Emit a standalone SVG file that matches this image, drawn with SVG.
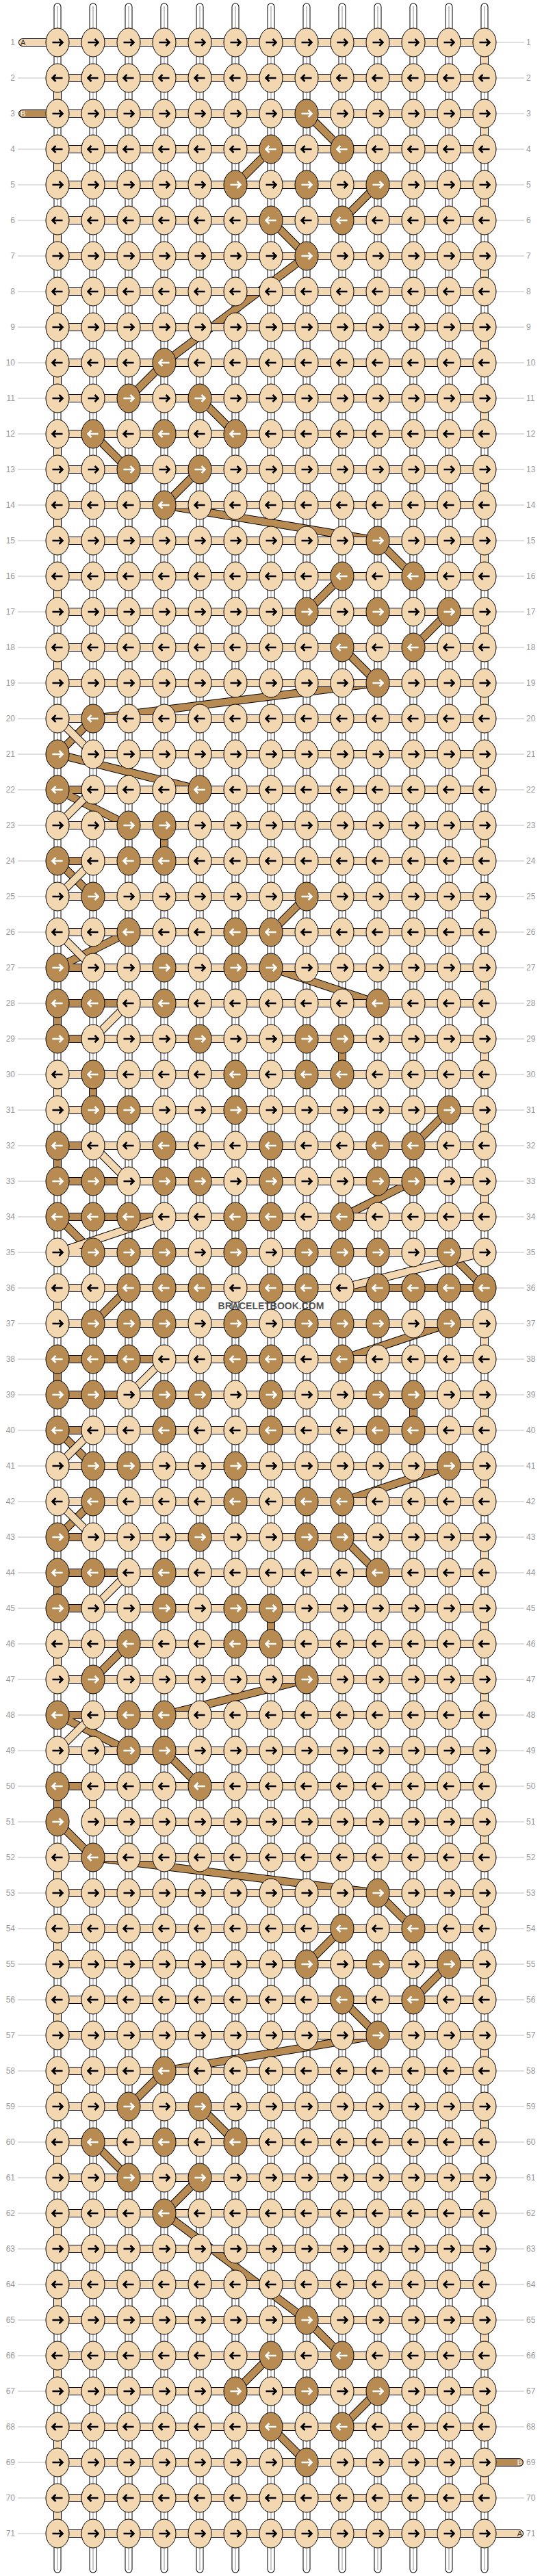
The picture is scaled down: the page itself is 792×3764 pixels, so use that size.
<svg xmlns="http://www.w3.org/2000/svg" width="792" height="3764" viewBox="0 0 792 3764">
<style>
text{font-family:"Liberation Sans",Arial,sans-serif}
.n{font-size:12px;fill:#999}
.e{text-anchor:end}
.g{fill:none;stroke:#c0c0c0;stroke-width:1}
.kl{fill:#F3D7B0;stroke:#000;stroke-width:1}
.kd{fill:#B88B53;stroke:#000;stroke-width:1}
.ab{fill:none;stroke:#000;stroke-width:2.6}
.aw{fill:none;stroke:#fff;stroke-width:2.6}
.vo{fill:none;stroke:#000;stroke-width:11;stroke-linecap:round}
.vw{fill:none;stroke:#fff;stroke-width:9;stroke-linecap:round}
.vc{fill:none;stroke:#c8c8c8;stroke-width:2}
.to{fill:none;stroke:#000;stroke-width:12;stroke-linecap:round;stroke-linejoin:round}
.ta{fill:none;stroke:#F3D7B0;stroke-width:10;stroke-linecap:round;stroke-linejoin:round}
.tb{fill:none;stroke:#B88B53;stroke-width:10;stroke-linecap:round;stroke-linejoin:round}
</style>
<defs>
<g id="a"><ellipse rx="17" ry="21" class="kl"/><path class="ab" d="M-7.5,0H6.5M2.5,-5L7.5,0L2.5,5"/></g>
<g id="b"><ellipse rx="17" ry="21" class="kl"/><path class="ab" d="M7.5,0H-6.5M-2.5,-5L-7.5,0L-2.5,5"/></g>
<g id="c"><ellipse rx="17" ry="21" class="kd"/><path class="aw" d="M-7.5,0H6.5M2.5,-5L7.5,0L2.5,5"/></g>
<g id="d"><ellipse rx="17" ry="21" class="kd"/><path class="aw" d="M7.5,0H-6.5M-2.5,-5L-7.5,0L-2.5,5"/></g>
</defs>
<rect width="792" height="3764" fill="#fff"/>
<g id="threads">
<path class="vo" d="M84,10V3754M136,10V3754M188,10V3754M240,10V3754M292,10V3754M344,10V3754M396,10V3754M448,10V3754M500,10V3754M552,10V3754M604,10V3754M656,10V3754M708,10V3754"/>
<path class="vw" d="M84,10V3754M136,10V3754M188,10V3754M240,10V3754M292,10V3754M344,10V3754M396,10V3754M448,10V3754M500,10V3754M552,10V3754M604,10V3754M656,10V3754M708,10V3754"/>
<path class="vc" d="M84,9V3755M136,9V3755M188,9V3755M240,9V3755M292,9V3755M344,9V3755M396,9V3755M448,9V3755M500,9V3755M552,9V3755M604,9V3755M656,9V3755M708,9V3755"/>
</g>
<g id="connectors">
<polyline id="threadB-o" class="to" points="33,166 448,166 500,218 396,218 344,270 552,270 500,322 396,322 448,374 240,530 188,582 292,582 344,634 136,634 188,686 292,686 240,738 552,790 604,842 500,842 448,894 656,894 604,946 500,946 552,998 136,1050 84,1102 292,1154 84,1154 188,1206 240,1206 240,1258 84,1258 136,1310 448,1310 396,1362 188,1362 84,1414 396,1414 552,1466 84,1466 84,1518 500,1518 500,1570 136,1570 136,1622 656,1622 604,1674 84,1674 84,1726 604,1726 500,1778 84,1778 136,1830 656,1830 708,1882 188,1882 136,1934 656,1934 500,1986 84,1986 84,2038 604,2038 604,2090 84,2090 136,2142 656,2142 500,2194 136,2194 84,2246 500,2246 552,2298 84,2298 84,2350 396,2350 396,2402 188,2402 136,2454 448,2454 240,2506 84,2506 188,2558 240,2558 292,2610 84,2610 84,2662 136,2714 552,2766 604,2818 500,2818 448,2870 656,2870 604,2922 500,2922 552,2974 240,3026 188,3078 292,3078 344,3130 136,3130 188,3182 292,3182 240,3234 448,3390 500,3442 396,3442 344,3494 552,3494 500,3546 396,3546 448,3598 759,3598"/>
<polyline id="threadB" class="tb" points="33,166 448,166 500,218 396,218 344,270 552,270 500,322 396,322 448,374 240,530 188,582 292,582 344,634 136,634 188,686 292,686 240,738 552,790 604,842 500,842 448,894 656,894 604,946 500,946 552,998 136,1050 84,1102 292,1154 84,1154 188,1206 240,1206 240,1258 84,1258 136,1310 448,1310 396,1362 188,1362 84,1414 396,1414 552,1466 84,1466 84,1518 500,1518 500,1570 136,1570 136,1622 656,1622 604,1674 84,1674 84,1726 604,1726 500,1778 84,1778 136,1830 656,1830 708,1882 188,1882 136,1934 656,1934 500,1986 84,1986 84,2038 604,2038 604,2090 84,2090 136,2142 656,2142 500,2194 136,2194 84,2246 500,2246 552,2298 84,2298 84,2350 396,2350 396,2402 188,2402 136,2454 448,2454 240,2506 84,2506 188,2558 240,2558 292,2610 84,2610 84,2662 136,2714 552,2766 604,2818 500,2818 448,2870 656,2870 604,2922 500,2922 552,2974 240,3026 188,3078 292,3078 344,3130 136,3130 188,3182 292,3182 240,3234 448,3390 500,3442 396,3442 344,3494 552,3494 500,3546 396,3546 448,3598 759,3598"/>
<polyline id="threadA-o" class="to" points="33,62 708,62 708,114 84,114 84,166 708,166 708,218 84,218 84,270 708,270 708,322 84,322 84,374 708,374 708,426 84,426 84,478 708,478 708,530 84,530 84,582 708,582 708,634 84,634 84,686 708,686 708,738 84,738 84,790 708,790 708,842 84,842 84,894 708,894 708,946 84,946 84,998 708,998 708,1050 84,1050 136,1102 708,1102 708,1154 136,1154 84,1206 708,1206 708,1258 136,1258 84,1310 708,1310 708,1362 84,1362 136,1414 708,1414 708,1466 188,1466 136,1518 708,1518 708,1570 84,1570 84,1622 708,1622 708,1674 136,1674 188,1726 708,1726 708,1778 240,1778 84,1830 708,1830 500,1882 84,1882 84,1934 708,1934 708,1986 240,1986 188,2038 708,2038 708,2090 136,2090 84,2142 708,2142 708,2194 84,2194 136,2246 708,2246 708,2298 188,2298 136,2350 708,2350 708,2402 84,2402 84,2454 708,2454 708,2506 136,2506 84,2558 708,2558 708,2610 136,2610 136,2662 708,2662 708,2714 84,2714 84,2766 708,2766 708,2818 84,2818 84,2870 708,2870 708,2922 84,2922 84,2974 708,2974 708,3026 84,3026 84,3078 708,3078 708,3130 84,3130 84,3182 708,3182 708,3234 84,3234 84,3286 708,3286 708,3338 84,3338 84,3390 708,3390 708,3442 84,3442 84,3494 708,3494 708,3546 84,3546 84,3598 708,3598 708,3650 84,3650 84,3702 759,3702"/>
<polyline id="threadA" class="ta" points="33,62 708,62 708,114 84,114 84,166 708,166 708,218 84,218 84,270 708,270 708,322 84,322 84,374 708,374 708,426 84,426 84,478 708,478 708,530 84,530 84,582 708,582 708,634 84,634 84,686 708,686 708,738 84,738 84,790 708,790 708,842 84,842 84,894 708,894 708,946 84,946 84,998 708,998 708,1050 84,1050 136,1102 708,1102 708,1154 136,1154 84,1206 708,1206 708,1258 136,1258 84,1310 708,1310 708,1362 84,1362 136,1414 708,1414 708,1466 188,1466 136,1518 708,1518 708,1570 84,1570 84,1622 708,1622 708,1674 136,1674 188,1726 708,1726 708,1778 240,1778 84,1830 708,1830 500,1882 84,1882 84,1934 708,1934 708,1986 240,1986 188,2038 708,2038 708,2090 136,2090 84,2142 708,2142 708,2194 84,2194 136,2246 708,2246 708,2298 188,2298 136,2350 708,2350 708,2402 84,2402 84,2454 708,2454 708,2506 136,2506 84,2558 708,2558 708,2610 136,2610 136,2662 708,2662 708,2714 84,2714 84,2766 708,2766 708,2818 84,2818 84,2870 708,2870 708,2922 84,2922 84,2974 708,2974 708,3026 84,3026 84,3078 708,3078 708,3130 84,3130 84,3182 708,3182 708,3234 84,3234 84,3286 708,3286 708,3338 84,3338 84,3390 708,3390 708,3442 84,3442 84,3494 708,3494 708,3546 84,3546 84,3598 708,3598 708,3650 84,3650 84,3702 759,3702"/>
</g>
<g id="labels">
<path class="g" d="M26,114h41M26,218h41M26,270h41M26,322h41M26,374h41M26,426h41M26,478h41M26,530h41M26,582h41M26,634h41M26,686h41M26,738h41M26,790h41M26,842h41M26,894h41M26,946h41M26,998h41M26,1050h41M26,1102h41M26,1154h41M26,1206h41M26,1258h41M26,1310h41M26,1362h41M26,1414h41M26,1466h41M26,1518h41M26,1570h41M26,1622h41M26,1674h41M26,1726h41M26,1778h41M26,1830h41M26,1882h41M26,1934h41M26,1986h41M26,2038h41M26,2090h41M26,2142h41M26,2194h41M26,2246h41M26,2298h41M26,2350h41M26,2402h41M26,2454h41M26,2506h41M26,2558h41M26,2610h41M26,2662h41M26,2714h41M26,2766h41M26,2818h41M26,2870h41M26,2922h41M26,2974h41M26,3026h41M26,3078h41M26,3130h41M26,3182h41M26,3234h41M26,3286h41M26,3338h41M26,3390h41M26,3442h41M26,3494h41M26,3546h41M26,3598h41M26,3650h41M26,3702h41"/>
<path class="g" d="M725,62h41M725,114h41M725,166h41M725,218h41M725,270h41M725,322h41M725,374h41M725,426h41M725,478h41M725,530h41M725,582h41M725,634h41M725,686h41M725,738h41M725,790h41M725,842h41M725,894h41M725,946h41M725,998h41M725,1050h41M725,1102h41M725,1154h41M725,1206h41M725,1258h41M725,1310h41M725,1362h41M725,1414h41M725,1466h41M725,1518h41M725,1570h41M725,1622h41M725,1674h41M725,1726h41M725,1778h41M725,1830h41M725,1882h41M725,1934h41M725,1986h41M725,2038h41M725,2090h41M725,2142h41M725,2194h41M725,2246h41M725,2298h41M725,2350h41M725,2402h41M725,2454h41M725,2506h41M725,2558h41M725,2610h41M725,2662h41M725,2714h41M725,2766h41M725,2818h41M725,2870h41M725,2922h41M725,2974h41M725,3026h41M725,3078h41M725,3130h41M725,3182h41M725,3234h41M725,3286h41M725,3338h41M725,3390h41M725,3442h41M725,3494h41M725,3546h41M725,3650h41"/>
<g class="n e">
<text x="22" y="66">1</text><text x="22" y="118">2</text><text x="22" y="170">3</text><text x="22" y="222">4</text><text x="22" y="274">5</text><text x="22" y="326">6</text><text x="22" y="378">7</text><text x="22" y="430">8</text><text x="22" y="482">9</text><text x="22" y="534">10</text><text x="22" y="586">11</text><text x="22" y="638">12</text><text x="22" y="690">13</text><text x="22" y="742">14</text><text x="22" y="794">15</text><text x="22" y="846">16</text><text x="22" y="898">17</text><text x="22" y="950">18</text><text x="22" y="1002">19</text><text x="22" y="1054">20</text><text x="22" y="1106">21</text><text x="22" y="1158">22</text><text x="22" y="1210">23</text><text x="22" y="1262">24</text><text x="22" y="1314">25</text><text x="22" y="1366">26</text><text x="22" y="1418">27</text><text x="22" y="1470">28</text><text x="22" y="1522">29</text><text x="22" y="1574">30</text><text x="22" y="1626">31</text><text x="22" y="1678">32</text><text x="22" y="1730">33</text><text x="22" y="1782">34</text><text x="22" y="1834">35</text><text x="22" y="1886">36</text><text x="22" y="1938">37</text><text x="22" y="1990">38</text><text x="22" y="2042">39</text><text x="22" y="2094">40</text><text x="22" y="2146">41</text><text x="22" y="2198">42</text><text x="22" y="2250">43</text><text x="22" y="2302">44</text><text x="22" y="2354">45</text><text x="22" y="2406">46</text><text x="22" y="2458">47</text><text x="22" y="2510">48</text><text x="22" y="2562">49</text><text x="22" y="2614">50</text><text x="22" y="2666">51</text><text x="22" y="2718">52</text><text x="22" y="2770">53</text><text x="22" y="2822">54</text><text x="22" y="2874">55</text><text x="22" y="2926">56</text><text x="22" y="2978">57</text><text x="22" y="3030">58</text><text x="22" y="3082">59</text><text x="22" y="3134">60</text><text x="22" y="3186">61</text><text x="22" y="3238">62</text><text x="22" y="3290">63</text><text x="22" y="3342">64</text><text x="22" y="3394">65</text><text x="22" y="3446">66</text><text x="22" y="3498">67</text><text x="22" y="3550">68</text><text x="22" y="3602">69</text><text x="22" y="3654">70</text><text x="22" y="3706">71</text>
</g>
<g class="n">
<text x="769" y="66">1</text><text x="769" y="118">2</text><text x="769" y="170">3</text><text x="769" y="222">4</text><text x="769" y="274">5</text><text x="769" y="326">6</text><text x="769" y="378">7</text><text x="769" y="430">8</text><text x="769" y="482">9</text><text x="769" y="534">10</text><text x="769" y="586">11</text><text x="769" y="638">12</text><text x="769" y="690">13</text><text x="769" y="742">14</text><text x="769" y="794">15</text><text x="769" y="846">16</text><text x="769" y="898">17</text><text x="769" y="950">18</text><text x="769" y="1002">19</text><text x="769" y="1054">20</text><text x="769" y="1106">21</text><text x="769" y="1158">22</text><text x="769" y="1210">23</text><text x="769" y="1262">24</text><text x="769" y="1314">25</text><text x="769" y="1366">26</text><text x="769" y="1418">27</text><text x="769" y="1470">28</text><text x="769" y="1522">29</text><text x="769" y="1574">30</text><text x="769" y="1626">31</text><text x="769" y="1678">32</text><text x="769" y="1730">33</text><text x="769" y="1782">34</text><text x="769" y="1834">35</text><text x="769" y="1886">36</text><text x="769" y="1938">37</text><text x="769" y="1990">38</text><text x="769" y="2042">39</text><text x="769" y="2094">40</text><text x="769" y="2146">41</text><text x="769" y="2198">42</text><text x="769" y="2250">43</text><text x="769" y="2302">44</text><text x="769" y="2354">45</text><text x="769" y="2406">46</text><text x="769" y="2458">47</text><text x="769" y="2510">48</text><text x="769" y="2562">49</text><text x="769" y="2614">50</text><text x="769" y="2666">51</text><text x="769" y="2718">52</text><text x="769" y="2770">53</text><text x="769" y="2822">54</text><text x="769" y="2874">55</text><text x="769" y="2926">56</text><text x="769" y="2978">57</text><text x="769" y="3030">58</text><text x="769" y="3082">59</text><text x="769" y="3134">60</text><text x="769" y="3186">61</text><text x="769" y="3238">62</text><text x="769" y="3290">63</text><text x="769" y="3342">64</text><text x="769" y="3394">65</text><text x="769" y="3446">66</text><text x="769" y="3498">67</text><text x="769" y="3550">68</text><text x="769" y="3602">69</text><text x="769" y="3654">70</text><text x="769" y="3706">71</text>
</g>
</g>
<g id="knots">
<g id="r1" transform="translate(0,62)"><g id="k1_0"><use href="#a" x="84"/></g><g id="k1_1"><use href="#a" x="136"/></g><g id="k1_2"><use href="#a" x="188"/></g><g id="k1_3"><use href="#a" x="240"/></g><g id="k1_4"><use href="#a" x="292"/></g><g id="k1_5"><use href="#a" x="344"/></g><g id="k1_6"><use href="#a" x="396"/></g><g id="k1_7"><use href="#a" x="448"/></g><g id="k1_8"><use href="#a" x="500"/></g><g id="k1_9"><use href="#a" x="552"/></g><g id="k1_10"><use href="#a" x="604"/></g><g id="k1_11"><use href="#a" x="656"/></g><g id="k1_12"><use href="#a" x="708"/></g></g>
<g id="r2" transform="translate(0,114)"><g id="k2_0"><use href="#b" x="84"/></g><g id="k2_1"><use href="#b" x="136"/></g><g id="k2_2"><use href="#b" x="188"/></g><g id="k2_3"><use href="#b" x="240"/></g><g id="k2_4"><use href="#b" x="292"/></g><g id="k2_5"><use href="#b" x="344"/></g><g id="k2_6"><use href="#b" x="396"/></g><g id="k2_7"><use href="#b" x="448"/></g><g id="k2_8"><use href="#b" x="500"/></g><g id="k2_9"><use href="#b" x="552"/></g><g id="k2_10"><use href="#b" x="604"/></g><g id="k2_11"><use href="#b" x="656"/></g><g id="k2_12"><use href="#b" x="708"/></g></g>
<g id="r3" transform="translate(0,166)"><g id="k3_0"><use href="#a" x="84"/></g><g id="k3_1"><use href="#a" x="136"/></g><g id="k3_2"><use href="#a" x="188"/></g><g id="k3_3"><use href="#a" x="240"/></g><g id="k3_4"><use href="#a" x="292"/></g><g id="k3_5"><use href="#a" x="344"/></g><g id="k3_6"><use href="#a" x="396"/></g><g id="k3_7"><use href="#c" x="448"/></g><g id="k3_8"><use href="#a" x="500"/></g><g id="k3_9"><use href="#a" x="552"/></g><g id="k3_10"><use href="#a" x="604"/></g><g id="k3_11"><use href="#a" x="656"/></g><g id="k3_12"><use href="#a" x="708"/></g></g>
<g id="r4" transform="translate(0,218)"><g id="k4_0"><use href="#b" x="84"/></g><g id="k4_1"><use href="#b" x="136"/></g><g id="k4_2"><use href="#b" x="188"/></g><g id="k4_3"><use href="#b" x="240"/></g><g id="k4_4"><use href="#b" x="292"/></g><g id="k4_5"><use href="#b" x="344"/></g><g id="k4_6"><use href="#d" x="396"/></g><g id="k4_7"><use href="#b" x="448"/></g><g id="k4_8"><use href="#d" x="500"/></g><g id="k4_9"><use href="#b" x="552"/></g><g id="k4_10"><use href="#b" x="604"/></g><g id="k4_11"><use href="#b" x="656"/></g><g id="k4_12"><use href="#b" x="708"/></g></g>
<g id="r5" transform="translate(0,270)"><g id="k5_0"><use href="#a" x="84"/></g><g id="k5_1"><use href="#a" x="136"/></g><g id="k5_2"><use href="#a" x="188"/></g><g id="k5_3"><use href="#a" x="240"/></g><g id="k5_4"><use href="#a" x="292"/></g><g id="k5_5"><use href="#c" x="344"/></g><g id="k5_6"><use href="#a" x="396"/></g><g id="k5_7"><use href="#c" x="448"/></g><g id="k5_8"><use href="#a" x="500"/></g><g id="k5_9"><use href="#c" x="552"/></g><g id="k5_10"><use href="#a" x="604"/></g><g id="k5_11"><use href="#a" x="656"/></g><g id="k5_12"><use href="#a" x="708"/></g></g>
<g id="r6" transform="translate(0,322)"><g id="k6_0"><use href="#b" x="84"/></g><g id="k6_1"><use href="#b" x="136"/></g><g id="k6_2"><use href="#b" x="188"/></g><g id="k6_3"><use href="#b" x="240"/></g><g id="k6_4"><use href="#b" x="292"/></g><g id="k6_5"><use href="#b" x="344"/></g><g id="k6_6"><use href="#d" x="396"/></g><g id="k6_7"><use href="#b" x="448"/></g><g id="k6_8"><use href="#d" x="500"/></g><g id="k6_9"><use href="#b" x="552"/></g><g id="k6_10"><use href="#b" x="604"/></g><g id="k6_11"><use href="#b" x="656"/></g><g id="k6_12"><use href="#b" x="708"/></g></g>
<g id="r7" transform="translate(0,374)"><g id="k7_0"><use href="#a" x="84"/></g><g id="k7_1"><use href="#a" x="136"/></g><g id="k7_2"><use href="#a" x="188"/></g><g id="k7_3"><use href="#a" x="240"/></g><g id="k7_4"><use href="#a" x="292"/></g><g id="k7_5"><use href="#a" x="344"/></g><g id="k7_6"><use href="#a" x="396"/></g><g id="k7_7"><use href="#c" x="448"/></g><g id="k7_8"><use href="#a" x="500"/></g><g id="k7_9"><use href="#a" x="552"/></g><g id="k7_10"><use href="#a" x="604"/></g><g id="k7_11"><use href="#a" x="656"/></g><g id="k7_12"><use href="#a" x="708"/></g></g>
<g id="r8" transform="translate(0,426)"><g id="k8_0"><use href="#b" x="84"/></g><g id="k8_1"><use href="#b" x="136"/></g><g id="k8_2"><use href="#b" x="188"/></g><g id="k8_3"><use href="#b" x="240"/></g><g id="k8_4"><use href="#b" x="292"/></g><g id="k8_5"><use href="#b" x="344"/></g><g id="k8_6"><use href="#b" x="396"/></g><g id="k8_7"><use href="#b" x="448"/></g><g id="k8_8"><use href="#b" x="500"/></g><g id="k8_9"><use href="#b" x="552"/></g><g id="k8_10"><use href="#b" x="604"/></g><g id="k8_11"><use href="#b" x="656"/></g><g id="k8_12"><use href="#b" x="708"/></g></g>
<g id="r9" transform="translate(0,478)"><g id="k9_0"><use href="#a" x="84"/></g><g id="k9_1"><use href="#a" x="136"/></g><g id="k9_2"><use href="#a" x="188"/></g><g id="k9_3"><use href="#a" x="240"/></g><g id="k9_4"><use href="#a" x="292"/></g><g id="k9_5"><use href="#a" x="344"/></g><g id="k9_6"><use href="#a" x="396"/></g><g id="k9_7"><use href="#a" x="448"/></g><g id="k9_8"><use href="#a" x="500"/></g><g id="k9_9"><use href="#a" x="552"/></g><g id="k9_10"><use href="#a" x="604"/></g><g id="k9_11"><use href="#a" x="656"/></g><g id="k9_12"><use href="#a" x="708"/></g></g>
<g id="r10" transform="translate(0,530)"><g id="k10_0"><use href="#b" x="84"/></g><g id="k10_1"><use href="#b" x="136"/></g><g id="k10_2"><use href="#b" x="188"/></g><g id="k10_3"><use href="#d" x="240"/></g><g id="k10_4"><use href="#b" x="292"/></g><g id="k10_5"><use href="#b" x="344"/></g><g id="k10_6"><use href="#b" x="396"/></g><g id="k10_7"><use href="#b" x="448"/></g><g id="k10_8"><use href="#b" x="500"/></g><g id="k10_9"><use href="#b" x="552"/></g><g id="k10_10"><use href="#b" x="604"/></g><g id="k10_11"><use href="#b" x="656"/></g><g id="k10_12"><use href="#b" x="708"/></g></g>
<g id="r11" transform="translate(0,582)"><g id="k11_0"><use href="#a" x="84"/></g><g id="k11_1"><use href="#a" x="136"/></g><g id="k11_2"><use href="#c" x="188"/></g><g id="k11_3"><use href="#a" x="240"/></g><g id="k11_4"><use href="#c" x="292"/></g><g id="k11_5"><use href="#a" x="344"/></g><g id="k11_6"><use href="#a" x="396"/></g><g id="k11_7"><use href="#a" x="448"/></g><g id="k11_8"><use href="#a" x="500"/></g><g id="k11_9"><use href="#a" x="552"/></g><g id="k11_10"><use href="#a" x="604"/></g><g id="k11_11"><use href="#a" x="656"/></g><g id="k11_12"><use href="#a" x="708"/></g></g>
<g id="r12" transform="translate(0,634)"><g id="k12_0"><use href="#b" x="84"/></g><g id="k12_1"><use href="#d" x="136"/></g><g id="k12_2"><use href="#b" x="188"/></g><g id="k12_3"><use href="#d" x="240"/></g><g id="k12_4"><use href="#b" x="292"/></g><g id="k12_5"><use href="#d" x="344"/></g><g id="k12_6"><use href="#b" x="396"/></g><g id="k12_7"><use href="#b" x="448"/></g><g id="k12_8"><use href="#b" x="500"/></g><g id="k12_9"><use href="#b" x="552"/></g><g id="k12_10"><use href="#b" x="604"/></g><g id="k12_11"><use href="#b" x="656"/></g><g id="k12_12"><use href="#b" x="708"/></g></g>
<g id="r13" transform="translate(0,686)"><g id="k13_0"><use href="#a" x="84"/></g><g id="k13_1"><use href="#a" x="136"/></g><g id="k13_2"><use href="#c" x="188"/></g><g id="k13_3"><use href="#a" x="240"/></g><g id="k13_4"><use href="#c" x="292"/></g><g id="k13_5"><use href="#a" x="344"/></g><g id="k13_6"><use href="#a" x="396"/></g><g id="k13_7"><use href="#a" x="448"/></g><g id="k13_8"><use href="#a" x="500"/></g><g id="k13_9"><use href="#a" x="552"/></g><g id="k13_10"><use href="#a" x="604"/></g><g id="k13_11"><use href="#a" x="656"/></g><g id="k13_12"><use href="#a" x="708"/></g></g>
<g id="r14" transform="translate(0,738)"><g id="k14_0"><use href="#b" x="84"/></g><g id="k14_1"><use href="#b" x="136"/></g><g id="k14_2"><use href="#b" x="188"/></g><g id="k14_3"><use href="#d" x="240"/></g><g id="k14_4"><use href="#b" x="292"/></g><g id="k14_5"><use href="#b" x="344"/></g><g id="k14_6"><use href="#b" x="396"/></g><g id="k14_7"><use href="#b" x="448"/></g><g id="k14_8"><use href="#b" x="500"/></g><g id="k14_9"><use href="#b" x="552"/></g><g id="k14_10"><use href="#b" x="604"/></g><g id="k14_11"><use href="#b" x="656"/></g><g id="k14_12"><use href="#b" x="708"/></g></g>
<g id="r15" transform="translate(0,790)"><g id="k15_0"><use href="#a" x="84"/></g><g id="k15_1"><use href="#a" x="136"/></g><g id="k15_2"><use href="#a" x="188"/></g><g id="k15_3"><use href="#a" x="240"/></g><g id="k15_4"><use href="#a" x="292"/></g><g id="k15_5"><use href="#a" x="344"/></g><g id="k15_6"><use href="#a" x="396"/></g><g id="k15_7"><use href="#a" x="448"/></g><g id="k15_8"><use href="#a" x="500"/></g><g id="k15_9"><use href="#c" x="552"/></g><g id="k15_10"><use href="#a" x="604"/></g><g id="k15_11"><use href="#a" x="656"/></g><g id="k15_12"><use href="#a" x="708"/></g></g>
<g id="r16" transform="translate(0,842)"><g id="k16_0"><use href="#b" x="84"/></g><g id="k16_1"><use href="#b" x="136"/></g><g id="k16_2"><use href="#b" x="188"/></g><g id="k16_3"><use href="#b" x="240"/></g><g id="k16_4"><use href="#b" x="292"/></g><g id="k16_5"><use href="#b" x="344"/></g><g id="k16_6"><use href="#b" x="396"/></g><g id="k16_7"><use href="#b" x="448"/></g><g id="k16_8"><use href="#d" x="500"/></g><g id="k16_9"><use href="#b" x="552"/></g><g id="k16_10"><use href="#d" x="604"/></g><g id="k16_11"><use href="#b" x="656"/></g><g id="k16_12"><use href="#b" x="708"/></g></g>
<g id="r17" transform="translate(0,894)"><g id="k17_0"><use href="#a" x="84"/></g><g id="k17_1"><use href="#a" x="136"/></g><g id="k17_2"><use href="#a" x="188"/></g><g id="k17_3"><use href="#a" x="240"/></g><g id="k17_4"><use href="#a" x="292"/></g><g id="k17_5"><use href="#a" x="344"/></g><g id="k17_6"><use href="#a" x="396"/></g><g id="k17_7"><use href="#c" x="448"/></g><g id="k17_8"><use href="#a" x="500"/></g><g id="k17_9"><use href="#c" x="552"/></g><g id="k17_10"><use href="#a" x="604"/></g><g id="k17_11"><use href="#c" x="656"/></g><g id="k17_12"><use href="#a" x="708"/></g></g>
<g id="r18" transform="translate(0,946)"><g id="k18_0"><use href="#b" x="84"/></g><g id="k18_1"><use href="#b" x="136"/></g><g id="k18_2"><use href="#b" x="188"/></g><g id="k18_3"><use href="#b" x="240"/></g><g id="k18_4"><use href="#b" x="292"/></g><g id="k18_5"><use href="#b" x="344"/></g><g id="k18_6"><use href="#b" x="396"/></g><g id="k18_7"><use href="#b" x="448"/></g><g id="k18_8"><use href="#d" x="500"/></g><g id="k18_9"><use href="#b" x="552"/></g><g id="k18_10"><use href="#d" x="604"/></g><g id="k18_11"><use href="#b" x="656"/></g><g id="k18_12"><use href="#b" x="708"/></g></g>
<g id="r19" transform="translate(0,998)"><g id="k19_0"><use href="#a" x="84"/></g><g id="k19_1"><use href="#a" x="136"/></g><g id="k19_2"><use href="#a" x="188"/></g><g id="k19_3"><use href="#a" x="240"/></g><g id="k19_4"><use href="#a" x="292"/></g><g id="k19_5"><use href="#a" x="344"/></g><g id="k19_6"><use href="#a" x="396"/></g><g id="k19_7"><use href="#a" x="448"/></g><g id="k19_8"><use href="#a" x="500"/></g><g id="k19_9"><use href="#c" x="552"/></g><g id="k19_10"><use href="#a" x="604"/></g><g id="k19_11"><use href="#a" x="656"/></g><g id="k19_12"><use href="#a" x="708"/></g></g>
<g id="r20" transform="translate(0,1050)"><g id="k20_0"><use href="#b" x="84"/></g><g id="k20_1"><use href="#d" x="136"/></g><g id="k20_2"><use href="#b" x="188"/></g><g id="k20_3"><use href="#b" x="240"/></g><g id="k20_4"><use href="#b" x="292"/></g><g id="k20_5"><use href="#b" x="344"/></g><g id="k20_6"><use href="#b" x="396"/></g><g id="k20_7"><use href="#b" x="448"/></g><g id="k20_8"><use href="#b" x="500"/></g><g id="k20_9"><use href="#b" x="552"/></g><g id="k20_10"><use href="#b" x="604"/></g><g id="k20_11"><use href="#b" x="656"/></g><g id="k20_12"><use href="#b" x="708"/></g></g>
<g id="r21" transform="translate(0,1102)"><g id="k21_0"><use href="#c" x="84"/></g><g id="k21_1"><use href="#a" x="136"/></g><g id="k21_2"><use href="#a" x="188"/></g><g id="k21_3"><use href="#a" x="240"/></g><g id="k21_4"><use href="#a" x="292"/></g><g id="k21_5"><use href="#a" x="344"/></g><g id="k21_6"><use href="#a" x="396"/></g><g id="k21_7"><use href="#a" x="448"/></g><g id="k21_8"><use href="#a" x="500"/></g><g id="k21_9"><use href="#a" x="552"/></g><g id="k21_10"><use href="#a" x="604"/></g><g id="k21_11"><use href="#a" x="656"/></g><g id="k21_12"><use href="#a" x="708"/></g></g>
<g id="r22" transform="translate(0,1154)"><g id="k22_0"><use href="#d" x="84"/></g><g id="k22_1"><use href="#b" x="136"/></g><g id="k22_2"><use href="#b" x="188"/></g><g id="k22_3"><use href="#b" x="240"/></g><g id="k22_4"><use href="#d" x="292"/></g><g id="k22_5"><use href="#b" x="344"/></g><g id="k22_6"><use href="#b" x="396"/></g><g id="k22_7"><use href="#b" x="448"/></g><g id="k22_8"><use href="#b" x="500"/></g><g id="k22_9"><use href="#b" x="552"/></g><g id="k22_10"><use href="#b" x="604"/></g><g id="k22_11"><use href="#b" x="656"/></g><g id="k22_12"><use href="#b" x="708"/></g></g>
<g id="r23" transform="translate(0,1206)"><g id="k23_0"><use href="#a" x="84"/></g><g id="k23_1"><use href="#a" x="136"/></g><g id="k23_2"><use href="#c" x="188"/></g><g id="k23_3"><use href="#c" x="240"/></g><g id="k23_4"><use href="#a" x="292"/></g><g id="k23_5"><use href="#a" x="344"/></g><g id="k23_6"><use href="#a" x="396"/></g><g id="k23_7"><use href="#a" x="448"/></g><g id="k23_8"><use href="#a" x="500"/></g><g id="k23_9"><use href="#a" x="552"/></g><g id="k23_10"><use href="#a" x="604"/></g><g id="k23_11"><use href="#a" x="656"/></g><g id="k23_12"><use href="#a" x="708"/></g></g>
<g id="r24" transform="translate(0,1258)"><g id="k24_0"><use href="#d" x="84"/></g><g id="k24_1"><use href="#b" x="136"/></g><g id="k24_2"><use href="#d" x="188"/></g><g id="k24_3"><use href="#d" x="240"/></g><g id="k24_4"><use href="#b" x="292"/></g><g id="k24_5"><use href="#b" x="344"/></g><g id="k24_6"><use href="#b" x="396"/></g><g id="k24_7"><use href="#b" x="448"/></g><g id="k24_8"><use href="#b" x="500"/></g><g id="k24_9"><use href="#b" x="552"/></g><g id="k24_10"><use href="#b" x="604"/></g><g id="k24_11"><use href="#b" x="656"/></g><g id="k24_12"><use href="#b" x="708"/></g></g>
<g id="r25" transform="translate(0,1310)"><g id="k25_0"><use href="#a" x="84"/></g><g id="k25_1"><use href="#c" x="136"/></g><g id="k25_2"><use href="#a" x="188"/></g><g id="k25_3"><use href="#a" x="240"/></g><g id="k25_4"><use href="#a" x="292"/></g><g id="k25_5"><use href="#a" x="344"/></g><g id="k25_6"><use href="#a" x="396"/></g><g id="k25_7"><use href="#c" x="448"/></g><g id="k25_8"><use href="#a" x="500"/></g><g id="k25_9"><use href="#a" x="552"/></g><g id="k25_10"><use href="#a" x="604"/></g><g id="k25_11"><use href="#a" x="656"/></g><g id="k25_12"><use href="#a" x="708"/></g></g>
<g id="r26" transform="translate(0,1362)"><g id="k26_0"><use href="#b" x="84"/></g><g id="k26_1"><use href="#b" x="136"/></g><g id="k26_2"><use href="#d" x="188"/></g><g id="k26_3"><use href="#b" x="240"/></g><g id="k26_4"><use href="#b" x="292"/></g><g id="k26_5"><use href="#d" x="344"/></g><g id="k26_6"><use href="#d" x="396"/></g><g id="k26_7"><use href="#b" x="448"/></g><g id="k26_8"><use href="#b" x="500"/></g><g id="k26_9"><use href="#b" x="552"/></g><g id="k26_10"><use href="#b" x="604"/></g><g id="k26_11"><use href="#b" x="656"/></g><g id="k26_12"><use href="#b" x="708"/></g></g>
<g id="r27" transform="translate(0,1414)"><g id="k27_0"><use href="#c" x="84"/></g><g id="k27_1"><use href="#a" x="136"/></g><g id="k27_2"><use href="#a" x="188"/></g><g id="k27_3"><use href="#c" x="240"/></g><g id="k27_4"><use href="#a" x="292"/></g><g id="k27_5"><use href="#c" x="344"/></g><g id="k27_6"><use href="#c" x="396"/></g><g id="k27_7"><use href="#a" x="448"/></g><g id="k27_8"><use href="#a" x="500"/></g><g id="k27_9"><use href="#a" x="552"/></g><g id="k27_10"><use href="#a" x="604"/></g><g id="k27_11"><use href="#a" x="656"/></g><g id="k27_12"><use href="#a" x="708"/></g></g>
<g id="r28" transform="translate(0,1466)"><g id="k28_0"><use href="#d" x="84"/></g><g id="k28_1"><use href="#d" x="136"/></g><g id="k28_2"><use href="#b" x="188"/></g><g id="k28_3"><use href="#d" x="240"/></g><g id="k28_4"><use href="#b" x="292"/></g><g id="k28_5"><use href="#b" x="344"/></g><g id="k28_6"><use href="#b" x="396"/></g><g id="k28_7"><use href="#b" x="448"/></g><g id="k28_8"><use href="#b" x="500"/></g><g id="k28_9"><use href="#d" x="552"/></g><g id="k28_10"><use href="#b" x="604"/></g><g id="k28_11"><use href="#b" x="656"/></g><g id="k28_12"><use href="#b" x="708"/></g></g>
<g id="r29" transform="translate(0,1518)"><g id="k29_0"><use href="#c" x="84"/></g><g id="k29_1"><use href="#a" x="136"/></g><g id="k29_2"><use href="#a" x="188"/></g><g id="k29_3"><use href="#a" x="240"/></g><g id="k29_4"><use href="#c" x="292"/></g><g id="k29_5"><use href="#a" x="344"/></g><g id="k29_6"><use href="#a" x="396"/></g><g id="k29_7"><use href="#c" x="448"/></g><g id="k29_8"><use href="#c" x="500"/></g><g id="k29_9"><use href="#a" x="552"/></g><g id="k29_10"><use href="#a" x="604"/></g><g id="k29_11"><use href="#a" x="656"/></g><g id="k29_12"><use href="#a" x="708"/></g></g>
<g id="r30" transform="translate(0,1570)"><g id="k30_0"><use href="#b" x="84"/></g><g id="k30_1"><use href="#d" x="136"/></g><g id="k30_2"><use href="#b" x="188"/></g><g id="k30_3"><use href="#b" x="240"/></g><g id="k30_4"><use href="#b" x="292"/></g><g id="k30_5"><use href="#d" x="344"/></g><g id="k30_6"><use href="#b" x="396"/></g><g id="k30_7"><use href="#d" x="448"/></g><g id="k30_8"><use href="#d" x="500"/></g><g id="k30_9"><use href="#b" x="552"/></g><g id="k30_10"><use href="#b" x="604"/></g><g id="k30_11"><use href="#b" x="656"/></g><g id="k30_12"><use href="#b" x="708"/></g></g>
<g id="r31" transform="translate(0,1622)"><g id="k31_0"><use href="#a" x="84"/></g><g id="k31_1"><use href="#c" x="136"/></g><g id="k31_2"><use href="#c" x="188"/></g><g id="k31_3"><use href="#a" x="240"/></g><g id="k31_4"><use href="#a" x="292"/></g><g id="k31_5"><use href="#c" x="344"/></g><g id="k31_6"><use href="#a" x="396"/></g><g id="k31_7"><use href="#a" x="448"/></g><g id="k31_8"><use href="#a" x="500"/></g><g id="k31_9"><use href="#a" x="552"/></g><g id="k31_10"><use href="#a" x="604"/></g><g id="k31_11"><use href="#c" x="656"/></g><g id="k31_12"><use href="#a" x="708"/></g></g>
<g id="r32" transform="translate(0,1674)"><g id="k32_0"><use href="#d" x="84"/></g><g id="k32_1"><use href="#b" x="136"/></g><g id="k32_2"><use href="#b" x="188"/></g><g id="k32_3"><use href="#d" x="240"/></g><g id="k32_4"><use href="#b" x="292"/></g><g id="k32_5"><use href="#b" x="344"/></g><g id="k32_6"><use href="#d" x="396"/></g><g id="k32_7"><use href="#b" x="448"/></g><g id="k32_8"><use href="#b" x="500"/></g><g id="k32_9"><use href="#d" x="552"/></g><g id="k32_10"><use href="#d" x="604"/></g><g id="k32_11"><use href="#b" x="656"/></g><g id="k32_12"><use href="#b" x="708"/></g></g>
<g id="r33" transform="translate(0,1726)"><g id="k33_0"><use href="#c" x="84"/></g><g id="k33_1"><use href="#c" x="136"/></g><g id="k33_2"><use href="#a" x="188"/></g><g id="k33_3"><use href="#c" x="240"/></g><g id="k33_4"><use href="#c" x="292"/></g><g id="k33_5"><use href="#a" x="344"/></g><g id="k33_6"><use href="#c" x="396"/></g><g id="k33_7"><use href="#a" x="448"/></g><g id="k33_8"><use href="#a" x="500"/></g><g id="k33_9"><use href="#c" x="552"/></g><g id="k33_10"><use href="#c" x="604"/></g><g id="k33_11"><use href="#a" x="656"/></g><g id="k33_12"><use href="#a" x="708"/></g></g>
<g id="r34" transform="translate(0,1778)"><g id="k34_0"><use href="#d" x="84"/></g><g id="k34_1"><use href="#d" x="136"/></g><g id="k34_2"><use href="#d" x="188"/></g><g id="k34_3"><use href="#b" x="240"/></g><g id="k34_4"><use href="#b" x="292"/></g><g id="k34_5"><use href="#d" x="344"/></g><g id="k34_6"><use href="#d" x="396"/></g><g id="k34_7"><use href="#b" x="448"/></g><g id="k34_8"><use href="#d" x="500"/></g><g id="k34_9"><use href="#b" x="552"/></g><g id="k34_10"><use href="#b" x="604"/></g><g id="k34_11"><use href="#b" x="656"/></g><g id="k34_12"><use href="#b" x="708"/></g></g>
<g id="r35" transform="translate(0,1830)"><g id="k35_0"><use href="#a" x="84"/></g><g id="k35_1"><use href="#c" x="136"/></g><g id="k35_2"><use href="#c" x="188"/></g><g id="k35_3"><use href="#c" x="240"/></g><g id="k35_4"><use href="#a" x="292"/></g><g id="k35_5"><use href="#c" x="344"/></g><g id="k35_6"><use href="#a" x="396"/></g><g id="k35_7"><use href="#c" x="448"/></g><g id="k35_8"><use href="#c" x="500"/></g><g id="k35_9"><use href="#c" x="552"/></g><g id="k35_10"><use href="#a" x="604"/></g><g id="k35_11"><use href="#c" x="656"/></g><g id="k35_12"><use href="#a" x="708"/></g></g>
<g id="r36" transform="translate(0,1882)"><g id="k36_0"><use href="#b" x="84"/></g><g id="k36_1"><use href="#b" x="136"/></g><g id="k36_2"><use href="#d" x="188"/></g><g id="k36_3"><use href="#d" x="240"/></g><g id="k36_4"><use href="#d" x="292"/></g><g id="k36_5"><use href="#b" x="344"/></g><g id="k36_6"><use href="#d" x="396"/></g><g id="k36_7"><use href="#d" x="448"/></g><g id="k36_8"><use href="#b" x="500"/></g><g id="k36_9"><use href="#d" x="552"/></g><g id="k36_10"><use href="#d" x="604"/></g><g id="k36_11"><use href="#d" x="656"/></g><g id="k36_12"><use href="#d" x="708"/></g></g>
<g id="r37" transform="translate(0,1934)"><g id="k37_0"><use href="#a" x="84"/></g><g id="k37_1"><use href="#c" x="136"/></g><g id="k37_2"><use href="#c" x="188"/></g><g id="k37_3"><use href="#c" x="240"/></g><g id="k37_4"><use href="#a" x="292"/></g><g id="k37_5"><use href="#c" x="344"/></g><g id="k37_6"><use href="#a" x="396"/></g><g id="k37_7"><use href="#c" x="448"/></g><g id="k37_8"><use href="#c" x="500"/></g><g id="k37_9"><use href="#c" x="552"/></g><g id="k37_10"><use href="#a" x="604"/></g><g id="k37_11"><use href="#c" x="656"/></g><g id="k37_12"><use href="#a" x="708"/></g></g>
<g id="r38" transform="translate(0,1986)"><g id="k38_0"><use href="#d" x="84"/></g><g id="k38_1"><use href="#d" x="136"/></g><g id="k38_2"><use href="#d" x="188"/></g><g id="k38_3"><use href="#b" x="240"/></g><g id="k38_4"><use href="#b" x="292"/></g><g id="k38_5"><use href="#d" x="344"/></g><g id="k38_6"><use href="#d" x="396"/></g><g id="k38_7"><use href="#b" x="448"/></g><g id="k38_8"><use href="#d" x="500"/></g><g id="k38_9"><use href="#b" x="552"/></g><g id="k38_10"><use href="#b" x="604"/></g><g id="k38_11"><use href="#b" x="656"/></g><g id="k38_12"><use href="#b" x="708"/></g></g>
<g id="r39" transform="translate(0,2038)"><g id="k39_0"><use href="#c" x="84"/></g><g id="k39_1"><use href="#c" x="136"/></g><g id="k39_2"><use href="#a" x="188"/></g><g id="k39_3"><use href="#c" x="240"/></g><g id="k39_4"><use href="#c" x="292"/></g><g id="k39_5"><use href="#a" x="344"/></g><g id="k39_6"><use href="#c" x="396"/></g><g id="k39_7"><use href="#a" x="448"/></g><g id="k39_8"><use href="#a" x="500"/></g><g id="k39_9"><use href="#c" x="552"/></g><g id="k39_10"><use href="#c" x="604"/></g><g id="k39_11"><use href="#a" x="656"/></g><g id="k39_12"><use href="#a" x="708"/></g></g>
<g id="r40" transform="translate(0,2090)"><g id="k40_0"><use href="#d" x="84"/></g><g id="k40_1"><use href="#b" x="136"/></g><g id="k40_2"><use href="#b" x="188"/></g><g id="k40_3"><use href="#d" x="240"/></g><g id="k40_4"><use href="#b" x="292"/></g><g id="k40_5"><use href="#b" x="344"/></g><g id="k40_6"><use href="#d" x="396"/></g><g id="k40_7"><use href="#b" x="448"/></g><g id="k40_8"><use href="#b" x="500"/></g><g id="k40_9"><use href="#d" x="552"/></g><g id="k40_10"><use href="#d" x="604"/></g><g id="k40_11"><use href="#b" x="656"/></g><g id="k40_12"><use href="#b" x="708"/></g></g>
<g id="r41" transform="translate(0,2142)"><g id="k41_0"><use href="#a" x="84"/></g><g id="k41_1"><use href="#c" x="136"/></g><g id="k41_2"><use href="#c" x="188"/></g><g id="k41_3"><use href="#a" x="240"/></g><g id="k41_4"><use href="#a" x="292"/></g><g id="k41_5"><use href="#c" x="344"/></g><g id="k41_6"><use href="#a" x="396"/></g><g id="k41_7"><use href="#a" x="448"/></g><g id="k41_8"><use href="#a" x="500"/></g><g id="k41_9"><use href="#a" x="552"/></g><g id="k41_10"><use href="#a" x="604"/></g><g id="k41_11"><use href="#c" x="656"/></g><g id="k41_12"><use href="#a" x="708"/></g></g>
<g id="r42" transform="translate(0,2194)"><g id="k42_0"><use href="#b" x="84"/></g><g id="k42_1"><use href="#d" x="136"/></g><g id="k42_2"><use href="#b" x="188"/></g><g id="k42_3"><use href="#b" x="240"/></g><g id="k42_4"><use href="#b" x="292"/></g><g id="k42_5"><use href="#d" x="344"/></g><g id="k42_6"><use href="#b" x="396"/></g><g id="k42_7"><use href="#d" x="448"/></g><g id="k42_8"><use href="#d" x="500"/></g><g id="k42_9"><use href="#b" x="552"/></g><g id="k42_10"><use href="#b" x="604"/></g><g id="k42_11"><use href="#b" x="656"/></g><g id="k42_12"><use href="#b" x="708"/></g></g>
<g id="r43" transform="translate(0,2246)"><g id="k43_0"><use href="#c" x="84"/></g><g id="k43_1"><use href="#a" x="136"/></g><g id="k43_2"><use href="#a" x="188"/></g><g id="k43_3"><use href="#a" x="240"/></g><g id="k43_4"><use href="#c" x="292"/></g><g id="k43_5"><use href="#a" x="344"/></g><g id="k43_6"><use href="#a" x="396"/></g><g id="k43_7"><use href="#c" x="448"/></g><g id="k43_8"><use href="#c" x="500"/></g><g id="k43_9"><use href="#a" x="552"/></g><g id="k43_10"><use href="#a" x="604"/></g><g id="k43_11"><use href="#a" x="656"/></g><g id="k43_12"><use href="#a" x="708"/></g></g>
<g id="r44" transform="translate(0,2298)"><g id="k44_0"><use href="#d" x="84"/></g><g id="k44_1"><use href="#d" x="136"/></g><g id="k44_2"><use href="#b" x="188"/></g><g id="k44_3"><use href="#d" x="240"/></g><g id="k44_4"><use href="#b" x="292"/></g><g id="k44_5"><use href="#b" x="344"/></g><g id="k44_6"><use href="#b" x="396"/></g><g id="k44_7"><use href="#b" x="448"/></g><g id="k44_8"><use href="#b" x="500"/></g><g id="k44_9"><use href="#d" x="552"/></g><g id="k44_10"><use href="#b" x="604"/></g><g id="k44_11"><use href="#b" x="656"/></g><g id="k44_12"><use href="#b" x="708"/></g></g>
<g id="r45" transform="translate(0,2350)"><g id="k45_0"><use href="#c" x="84"/></g><g id="k45_1"><use href="#a" x="136"/></g><g id="k45_2"><use href="#a" x="188"/></g><g id="k45_3"><use href="#c" x="240"/></g><g id="k45_4"><use href="#a" x="292"/></g><g id="k45_5"><use href="#c" x="344"/></g><g id="k45_6"><use href="#c" x="396"/></g><g id="k45_7"><use href="#a" x="448"/></g><g id="k45_8"><use href="#a" x="500"/></g><g id="k45_9"><use href="#a" x="552"/></g><g id="k45_10"><use href="#a" x="604"/></g><g id="k45_11"><use href="#a" x="656"/></g><g id="k45_12"><use href="#a" x="708"/></g></g>
<g id="r46" transform="translate(0,2402)"><g id="k46_0"><use href="#b" x="84"/></g><g id="k46_1"><use href="#b" x="136"/></g><g id="k46_2"><use href="#d" x="188"/></g><g id="k46_3"><use href="#b" x="240"/></g><g id="k46_4"><use href="#b" x="292"/></g><g id="k46_5"><use href="#d" x="344"/></g><g id="k46_6"><use href="#d" x="396"/></g><g id="k46_7"><use href="#b" x="448"/></g><g id="k46_8"><use href="#b" x="500"/></g><g id="k46_9"><use href="#b" x="552"/></g><g id="k46_10"><use href="#b" x="604"/></g><g id="k46_11"><use href="#b" x="656"/></g><g id="k46_12"><use href="#b" x="708"/></g></g>
<g id="r47" transform="translate(0,2454)"><g id="k47_0"><use href="#a" x="84"/></g><g id="k47_1"><use href="#c" x="136"/></g><g id="k47_2"><use href="#a" x="188"/></g><g id="k47_3"><use href="#a" x="240"/></g><g id="k47_4"><use href="#a" x="292"/></g><g id="k47_5"><use href="#a" x="344"/></g><g id="k47_6"><use href="#a" x="396"/></g><g id="k47_7"><use href="#c" x="448"/></g><g id="k47_8"><use href="#a" x="500"/></g><g id="k47_9"><use href="#a" x="552"/></g><g id="k47_10"><use href="#a" x="604"/></g><g id="k47_11"><use href="#a" x="656"/></g><g id="k47_12"><use href="#a" x="708"/></g></g>
<g id="r48" transform="translate(0,2506)"><g id="k48_0"><use href="#d" x="84"/></g><g id="k48_1"><use href="#b" x="136"/></g><g id="k48_2"><use href="#d" x="188"/></g><g id="k48_3"><use href="#d" x="240"/></g><g id="k48_4"><use href="#b" x="292"/></g><g id="k48_5"><use href="#b" x="344"/></g><g id="k48_6"><use href="#b" x="396"/></g><g id="k48_7"><use href="#b" x="448"/></g><g id="k48_8"><use href="#b" x="500"/></g><g id="k48_9"><use href="#b" x="552"/></g><g id="k48_10"><use href="#b" x="604"/></g><g id="k48_11"><use href="#b" x="656"/></g><g id="k48_12"><use href="#b" x="708"/></g></g>
<g id="r49" transform="translate(0,2558)"><g id="k49_0"><use href="#a" x="84"/></g><g id="k49_1"><use href="#a" x="136"/></g><g id="k49_2"><use href="#c" x="188"/></g><g id="k49_3"><use href="#c" x="240"/></g><g id="k49_4"><use href="#a" x="292"/></g><g id="k49_5"><use href="#a" x="344"/></g><g id="k49_6"><use href="#a" x="396"/></g><g id="k49_7"><use href="#a" x="448"/></g><g id="k49_8"><use href="#a" x="500"/></g><g id="k49_9"><use href="#a" x="552"/></g><g id="k49_10"><use href="#a" x="604"/></g><g id="k49_11"><use href="#a" x="656"/></g><g id="k49_12"><use href="#a" x="708"/></g></g>
<g id="r50" transform="translate(0,2610)"><g id="k50_0"><use href="#d" x="84"/></g><g id="k50_1"><use href="#b" x="136"/></g><g id="k50_2"><use href="#b" x="188"/></g><g id="k50_3"><use href="#b" x="240"/></g><g id="k50_4"><use href="#d" x="292"/></g><g id="k50_5"><use href="#b" x="344"/></g><g id="k50_6"><use href="#b" x="396"/></g><g id="k50_7"><use href="#b" x="448"/></g><g id="k50_8"><use href="#b" x="500"/></g><g id="k50_9"><use href="#b" x="552"/></g><g id="k50_10"><use href="#b" x="604"/></g><g id="k50_11"><use href="#b" x="656"/></g><g id="k50_12"><use href="#b" x="708"/></g></g>
<g id="r51" transform="translate(0,2662)"><g id="k51_0"><use href="#c" x="84"/></g><g id="k51_1"><use href="#a" x="136"/></g><g id="k51_2"><use href="#a" x="188"/></g><g id="k51_3"><use href="#a" x="240"/></g><g id="k51_4"><use href="#a" x="292"/></g><g id="k51_5"><use href="#a" x="344"/></g><g id="k51_6"><use href="#a" x="396"/></g><g id="k51_7"><use href="#a" x="448"/></g><g id="k51_8"><use href="#a" x="500"/></g><g id="k51_9"><use href="#a" x="552"/></g><g id="k51_10"><use href="#a" x="604"/></g><g id="k51_11"><use href="#a" x="656"/></g><g id="k51_12"><use href="#a" x="708"/></g></g>
<g id="r52" transform="translate(0,2714)"><g id="k52_0"><use href="#b" x="84"/></g><g id="k52_1"><use href="#d" x="136"/></g><g id="k52_2"><use href="#b" x="188"/></g><g id="k52_3"><use href="#b" x="240"/></g><g id="k52_4"><use href="#b" x="292"/></g><g id="k52_5"><use href="#b" x="344"/></g><g id="k52_6"><use href="#b" x="396"/></g><g id="k52_7"><use href="#b" x="448"/></g><g id="k52_8"><use href="#b" x="500"/></g><g id="k52_9"><use href="#b" x="552"/></g><g id="k52_10"><use href="#b" x="604"/></g><g id="k52_11"><use href="#b" x="656"/></g><g id="k52_12"><use href="#b" x="708"/></g></g>
<g id="r53" transform="translate(0,2766)"><g id="k53_0"><use href="#a" x="84"/></g><g id="k53_1"><use href="#a" x="136"/></g><g id="k53_2"><use href="#a" x="188"/></g><g id="k53_3"><use href="#a" x="240"/></g><g id="k53_4"><use href="#a" x="292"/></g><g id="k53_5"><use href="#a" x="344"/></g><g id="k53_6"><use href="#a" x="396"/></g><g id="k53_7"><use href="#a" x="448"/></g><g id="k53_8"><use href="#a" x="500"/></g><g id="k53_9"><use href="#c" x="552"/></g><g id="k53_10"><use href="#a" x="604"/></g><g id="k53_11"><use href="#a" x="656"/></g><g id="k53_12"><use href="#a" x="708"/></g></g>
<g id="r54" transform="translate(0,2818)"><g id="k54_0"><use href="#b" x="84"/></g><g id="k54_1"><use href="#b" x="136"/></g><g id="k54_2"><use href="#b" x="188"/></g><g id="k54_3"><use href="#b" x="240"/></g><g id="k54_4"><use href="#b" x="292"/></g><g id="k54_5"><use href="#b" x="344"/></g><g id="k54_6"><use href="#b" x="396"/></g><g id="k54_7"><use href="#b" x="448"/></g><g id="k54_8"><use href="#d" x="500"/></g><g id="k54_9"><use href="#b" x="552"/></g><g id="k54_10"><use href="#d" x="604"/></g><g id="k54_11"><use href="#b" x="656"/></g><g id="k54_12"><use href="#b" x="708"/></g></g>
<g id="r55" transform="translate(0,2870)"><g id="k55_0"><use href="#a" x="84"/></g><g id="k55_1"><use href="#a" x="136"/></g><g id="k55_2"><use href="#a" x="188"/></g><g id="k55_3"><use href="#a" x="240"/></g><g id="k55_4"><use href="#a" x="292"/></g><g id="k55_5"><use href="#a" x="344"/></g><g id="k55_6"><use href="#a" x="396"/></g><g id="k55_7"><use href="#c" x="448"/></g><g id="k55_8"><use href="#a" x="500"/></g><g id="k55_9"><use href="#c" x="552"/></g><g id="k55_10"><use href="#a" x="604"/></g><g id="k55_11"><use href="#c" x="656"/></g><g id="k55_12"><use href="#a" x="708"/></g></g>
<g id="r56" transform="translate(0,2922)"><g id="k56_0"><use href="#b" x="84"/></g><g id="k56_1"><use href="#b" x="136"/></g><g id="k56_2"><use href="#b" x="188"/></g><g id="k56_3"><use href="#b" x="240"/></g><g id="k56_4"><use href="#b" x="292"/></g><g id="k56_5"><use href="#b" x="344"/></g><g id="k56_6"><use href="#b" x="396"/></g><g id="k56_7"><use href="#b" x="448"/></g><g id="k56_8"><use href="#d" x="500"/></g><g id="k56_9"><use href="#b" x="552"/></g><g id="k56_10"><use href="#d" x="604"/></g><g id="k56_11"><use href="#b" x="656"/></g><g id="k56_12"><use href="#b" x="708"/></g></g>
<g id="r57" transform="translate(0,2974)"><g id="k57_0"><use href="#a" x="84"/></g><g id="k57_1"><use href="#a" x="136"/></g><g id="k57_2"><use href="#a" x="188"/></g><g id="k57_3"><use href="#a" x="240"/></g><g id="k57_4"><use href="#a" x="292"/></g><g id="k57_5"><use href="#a" x="344"/></g><g id="k57_6"><use href="#a" x="396"/></g><g id="k57_7"><use href="#a" x="448"/></g><g id="k57_8"><use href="#a" x="500"/></g><g id="k57_9"><use href="#c" x="552"/></g><g id="k57_10"><use href="#a" x="604"/></g><g id="k57_11"><use href="#a" x="656"/></g><g id="k57_12"><use href="#a" x="708"/></g></g>
<g id="r58" transform="translate(0,3026)"><g id="k58_0"><use href="#b" x="84"/></g><g id="k58_1"><use href="#b" x="136"/></g><g id="k58_2"><use href="#b" x="188"/></g><g id="k58_3"><use href="#d" x="240"/></g><g id="k58_4"><use href="#b" x="292"/></g><g id="k58_5"><use href="#b" x="344"/></g><g id="k58_6"><use href="#b" x="396"/></g><g id="k58_7"><use href="#b" x="448"/></g><g id="k58_8"><use href="#b" x="500"/></g><g id="k58_9"><use href="#b" x="552"/></g><g id="k58_10"><use href="#b" x="604"/></g><g id="k58_11"><use href="#b" x="656"/></g><g id="k58_12"><use href="#b" x="708"/></g></g>
<g id="r59" transform="translate(0,3078)"><g id="k59_0"><use href="#a" x="84"/></g><g id="k59_1"><use href="#a" x="136"/></g><g id="k59_2"><use href="#c" x="188"/></g><g id="k59_3"><use href="#a" x="240"/></g><g id="k59_4"><use href="#c" x="292"/></g><g id="k59_5"><use href="#a" x="344"/></g><g id="k59_6"><use href="#a" x="396"/></g><g id="k59_7"><use href="#a" x="448"/></g><g id="k59_8"><use href="#a" x="500"/></g><g id="k59_9"><use href="#a" x="552"/></g><g id="k59_10"><use href="#a" x="604"/></g><g id="k59_11"><use href="#a" x="656"/></g><g id="k59_12"><use href="#a" x="708"/></g></g>
<g id="r60" transform="translate(0,3130)"><g id="k60_0"><use href="#b" x="84"/></g><g id="k60_1"><use href="#d" x="136"/></g><g id="k60_2"><use href="#b" x="188"/></g><g id="k60_3"><use href="#d" x="240"/></g><g id="k60_4"><use href="#b" x="292"/></g><g id="k60_5"><use href="#d" x="344"/></g><g id="k60_6"><use href="#b" x="396"/></g><g id="k60_7"><use href="#b" x="448"/></g><g id="k60_8"><use href="#b" x="500"/></g><g id="k60_9"><use href="#b" x="552"/></g><g id="k60_10"><use href="#b" x="604"/></g><g id="k60_11"><use href="#b" x="656"/></g><g id="k60_12"><use href="#b" x="708"/></g></g>
<g id="r61" transform="translate(0,3182)"><g id="k61_0"><use href="#a" x="84"/></g><g id="k61_1"><use href="#a" x="136"/></g><g id="k61_2"><use href="#c" x="188"/></g><g id="k61_3"><use href="#a" x="240"/></g><g id="k61_4"><use href="#c" x="292"/></g><g id="k61_5"><use href="#a" x="344"/></g><g id="k61_6"><use href="#a" x="396"/></g><g id="k61_7"><use href="#a" x="448"/></g><g id="k61_8"><use href="#a" x="500"/></g><g id="k61_9"><use href="#a" x="552"/></g><g id="k61_10"><use href="#a" x="604"/></g><g id="k61_11"><use href="#a" x="656"/></g><g id="k61_12"><use href="#a" x="708"/></g></g>
<g id="r62" transform="translate(0,3234)"><g id="k62_0"><use href="#b" x="84"/></g><g id="k62_1"><use href="#b" x="136"/></g><g id="k62_2"><use href="#b" x="188"/></g><g id="k62_3"><use href="#d" x="240"/></g><g id="k62_4"><use href="#b" x="292"/></g><g id="k62_5"><use href="#b" x="344"/></g><g id="k62_6"><use href="#b" x="396"/></g><g id="k62_7"><use href="#b" x="448"/></g><g id="k62_8"><use href="#b" x="500"/></g><g id="k62_9"><use href="#b" x="552"/></g><g id="k62_10"><use href="#b" x="604"/></g><g id="k62_11"><use href="#b" x="656"/></g><g id="k62_12"><use href="#b" x="708"/></g></g>
<g id="r63" transform="translate(0,3286)"><g id="k63_0"><use href="#a" x="84"/></g><g id="k63_1"><use href="#a" x="136"/></g><g id="k63_2"><use href="#a" x="188"/></g><g id="k63_3"><use href="#a" x="240"/></g><g id="k63_4"><use href="#a" x="292"/></g><g id="k63_5"><use href="#a" x="344"/></g><g id="k63_6"><use href="#a" x="396"/></g><g id="k63_7"><use href="#a" x="448"/></g><g id="k63_8"><use href="#a" x="500"/></g><g id="k63_9"><use href="#a" x="552"/></g><g id="k63_10"><use href="#a" x="604"/></g><g id="k63_11"><use href="#a" x="656"/></g><g id="k63_12"><use href="#a" x="708"/></g></g>
<g id="r64" transform="translate(0,3338)"><g id="k64_0"><use href="#b" x="84"/></g><g id="k64_1"><use href="#b" x="136"/></g><g id="k64_2"><use href="#b" x="188"/></g><g id="k64_3"><use href="#b" x="240"/></g><g id="k64_4"><use href="#b" x="292"/></g><g id="k64_5"><use href="#b" x="344"/></g><g id="k64_6"><use href="#b" x="396"/></g><g id="k64_7"><use href="#b" x="448"/></g><g id="k64_8"><use href="#b" x="500"/></g><g id="k64_9"><use href="#b" x="552"/></g><g id="k64_10"><use href="#b" x="604"/></g><g id="k64_11"><use href="#b" x="656"/></g><g id="k64_12"><use href="#b" x="708"/></g></g>
<g id="r65" transform="translate(0,3390)"><g id="k65_0"><use href="#a" x="84"/></g><g id="k65_1"><use href="#a" x="136"/></g><g id="k65_2"><use href="#a" x="188"/></g><g id="k65_3"><use href="#a" x="240"/></g><g id="k65_4"><use href="#a" x="292"/></g><g id="k65_5"><use href="#a" x="344"/></g><g id="k65_6"><use href="#a" x="396"/></g><g id="k65_7"><use href="#c" x="448"/></g><g id="k65_8"><use href="#a" x="500"/></g><g id="k65_9"><use href="#a" x="552"/></g><g id="k65_10"><use href="#a" x="604"/></g><g id="k65_11"><use href="#a" x="656"/></g><g id="k65_12"><use href="#a" x="708"/></g></g>
<g id="r66" transform="translate(0,3442)"><g id="k66_0"><use href="#b" x="84"/></g><g id="k66_1"><use href="#b" x="136"/></g><g id="k66_2"><use href="#b" x="188"/></g><g id="k66_3"><use href="#b" x="240"/></g><g id="k66_4"><use href="#b" x="292"/></g><g id="k66_5"><use href="#b" x="344"/></g><g id="k66_6"><use href="#d" x="396"/></g><g id="k66_7"><use href="#b" x="448"/></g><g id="k66_8"><use href="#d" x="500"/></g><g id="k66_9"><use href="#b" x="552"/></g><g id="k66_10"><use href="#b" x="604"/></g><g id="k66_11"><use href="#b" x="656"/></g><g id="k66_12"><use href="#b" x="708"/></g></g>
<g id="r67" transform="translate(0,3494)"><g id="k67_0"><use href="#a" x="84"/></g><g id="k67_1"><use href="#a" x="136"/></g><g id="k67_2"><use href="#a" x="188"/></g><g id="k67_3"><use href="#a" x="240"/></g><g id="k67_4"><use href="#a" x="292"/></g><g id="k67_5"><use href="#c" x="344"/></g><g id="k67_6"><use href="#a" x="396"/></g><g id="k67_7"><use href="#c" x="448"/></g><g id="k67_8"><use href="#a" x="500"/></g><g id="k67_9"><use href="#c" x="552"/></g><g id="k67_10"><use href="#a" x="604"/></g><g id="k67_11"><use href="#a" x="656"/></g><g id="k67_12"><use href="#a" x="708"/></g></g>
<g id="r68" transform="translate(0,3546)"><g id="k68_0"><use href="#b" x="84"/></g><g id="k68_1"><use href="#b" x="136"/></g><g id="k68_2"><use href="#b" x="188"/></g><g id="k68_3"><use href="#b" x="240"/></g><g id="k68_4"><use href="#b" x="292"/></g><g id="k68_5"><use href="#b" x="344"/></g><g id="k68_6"><use href="#d" x="396"/></g><g id="k68_7"><use href="#b" x="448"/></g><g id="k68_8"><use href="#d" x="500"/></g><g id="k68_9"><use href="#b" x="552"/></g><g id="k68_10"><use href="#b" x="604"/></g><g id="k68_11"><use href="#b" x="656"/></g><g id="k68_12"><use href="#b" x="708"/></g></g>
<g id="r69" transform="translate(0,3598)"><g id="k69_0"><use href="#a" x="84"/></g><g id="k69_1"><use href="#a" x="136"/></g><g id="k69_2"><use href="#a" x="188"/></g><g id="k69_3"><use href="#a" x="240"/></g><g id="k69_4"><use href="#a" x="292"/></g><g id="k69_5"><use href="#a" x="344"/></g><g id="k69_6"><use href="#a" x="396"/></g><g id="k69_7"><use href="#c" x="448"/></g><g id="k69_8"><use href="#a" x="500"/></g><g id="k69_9"><use href="#a" x="552"/></g><g id="k69_10"><use href="#a" x="604"/></g><g id="k69_11"><use href="#a" x="656"/></g><g id="k69_12"><use href="#a" x="708"/></g></g>
<g id="r70" transform="translate(0,3650)"><g id="k70_0"><use href="#b" x="84"/></g><g id="k70_1"><use href="#b" x="136"/></g><g id="k70_2"><use href="#b" x="188"/></g><g id="k70_3"><use href="#b" x="240"/></g><g id="k70_4"><use href="#b" x="292"/></g><g id="k70_5"><use href="#b" x="344"/></g><g id="k70_6"><use href="#b" x="396"/></g><g id="k70_7"><use href="#b" x="448"/></g><g id="k70_8"><use href="#b" x="500"/></g><g id="k70_9"><use href="#b" x="552"/></g><g id="k70_10"><use href="#b" x="604"/></g><g id="k70_11"><use href="#b" x="656"/></g><g id="k70_12"><use href="#b" x="708"/></g></g>
<g id="r71" transform="translate(0,3702)"><g id="k71_0"><use href="#a" x="84"/></g><g id="k71_1"><use href="#a" x="136"/></g><g id="k71_2"><use href="#a" x="188"/></g><g id="k71_3"><use href="#a" x="240"/></g><g id="k71_4"><use href="#a" x="292"/></g><g id="k71_5"><use href="#a" x="344"/></g><g id="k71_6"><use href="#a" x="396"/></g><g id="k71_7"><use href="#a" x="448"/></g><g id="k71_8"><use href="#a" x="500"/></g><g id="k71_9"><use href="#a" x="552"/></g><g id="k71_10"><use href="#a" x="604"/></g><g id="k71_11"><use href="#a" x="656"/></g><g id="k71_12"><use href="#a" x="708"/></g></g>
</g>
<g id="thread-ends" style="font-size:11px">
<text x="30" y="66" fill="#333">A</text>
<text x="30" y="170" fill="#fff">B</text>
<text x="763" y="3602" fill="#fff" text-anchor="end">B</text>
<text x="763" y="3706" fill="#333" text-anchor="end">A</text>
</g>
<text id="watermark" x="396" y="1913" text-anchor="middle" font-size="14" font-weight="bold" fill="#333" fill-opacity="0.85">BRACELETBOOK.COM</text>
</svg>
